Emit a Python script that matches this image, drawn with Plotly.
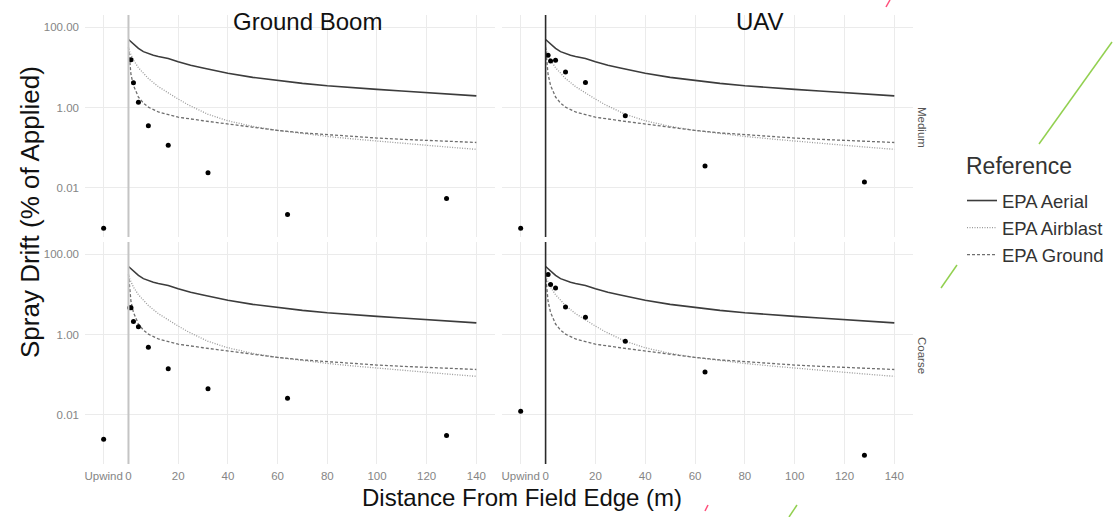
import plotly.graph_objects as go

W, H = 1114, 517

# ---------------- data ----------------
upwind_x = -10
x_tickvals = [-10, 0, 20, 40, 60, 80, 100, 120, 140]
x_ticktext = ["Upwind", "0", "20", "40", "60", "80", "100", "120", "140"]
y_tickvals = [0.01, 1, 100]
y_ticktext = ["0.01", "1.00", "100.00"]

# EPA reference curves (% of applied)
aerial_d = [0, 1, 2, 4, 6, 8, 10, 12, 14, 16, 20, 25, 30, 40, 50, 60, 70, 80, 90, 100, 110, 120, 130, 140]
aerial_v = [49.0, 42.7, 37.2, 29.5, 24.5, 21.9, 20.0, 18.6, 17.6, 16.6, 13.8, 11.2, 9.55, 7.08, 5.62,
            4.68, 3.98, 3.47, 3.09, 2.82, 2.57, 2.34, 2.14, 1.95]
airblast_d = [0, 1, 2, 4, 8, 12, 16, 20, 24, 28, 32, 40, 50, 60, 70, 80, 90, 100, 110, 120, 130, 140]
airblast_v = [28.2, 20.0, 15.1, 9.77, 5.25, 3.31, 2.29, 1.62, 1.17, 0.871, 0.676, 0.468, 0.339, 0.269,
              0.224, 0.191, 0.166, 0.145, 0.129, 0.115, 0.102, 0.0912]
ground_d = [0, 0.5, 1, 2, 3, 4, 6, 8, 12, 16, 20, 30, 40, 50, 60, 70, 80, 90, 100, 110, 120, 130, 140]
ground_v = [31.6, 11.2, 6.61, 3.55, 2.40, 1.82, 1.29, 1.02, 0.776, 0.661, 0.575, 0.468, 0.389, 0.316,
            0.269, 0.234, 0.209, 0.191, 0.174, 0.162, 0.151, 0.141, 0.135]

# Measured spray drift points
gb_medium_d = [upwind_x, 1, 2, 4, 8, 16, 32, 64, 128]
gb_medium_v = [0.001, 15.5, 4.1, 1.35, 0.35, 0.115, 0.024, 0.0022, 0.0055]
gb_coarse_d = [upwind_x, 0.5, 1, 2, 4, 8, 16, 32, 64, 128]
gb_coarse_v = [0.0025, 4.6, 4.6, 2.1, 1.55, 0.48, 0.14, 0.045, 0.026, 0.0031]
uav_medium_d = [upwind_x, 1, 2, 4, 8, 16, 32, 64, 128]
uav_medium_v = [0.001, 20.0, 14.4, 14.9, 7.6, 4.2, 0.62, 0.035, 0.014]
uav_coarse_d = [upwind_x, 1, 2, 4, 8, 16, 32, 64, 128]
uav_coarse_v = [0.0123, 31.0, 17.5, 14.4, 4.8, 2.7, 0.68, 0.117, 0.001]

panels = [
    ("x", "y", gb_medium_d, gb_medium_v),
    ("x2", "y2", uav_medium_d, uav_medium_v),
    ("x3", "y3", gb_coarse_d, gb_coarse_v),
    ("x4", "y4", uav_coarse_d, uav_coarse_v),
]

refs = [
    ("EPA Aerial", aerial_d, aerial_v, dict(color="#3c3c3c", width=1.6, dash="solid")),
    ("EPA Airblast", airblast_d, airblast_v, dict(color="#9a9a9a", width=1.3, dash="1px,1.5px")),
    ("EPA Ground", ground_d, ground_v, dict(color="#6f6f6f", width=1.3, dash="3px,2px")),
]

fig = go.Figure()
for i, (xa, ya, pd_, pv) in enumerate(panels):
    for name, d, v, ln in refs:
        fig.add_trace(go.Scatter(x=d, y=v, mode="lines", name=name, line=ln,
                                 xaxis=xa, yaxis=ya, legendgroup=name,
                                 showlegend=(i == 0)))
    fig.add_trace(go.Scatter(x=pd_, y=pv, mode="markers", showlegend=False,
                             marker=dict(color="black", size=5),
                             xaxis=xa, yaxis=ya))

def px(x):
    return x / W

def py(y):
    return 1 - y / H

grid = "#ebebeb"
tickfont = dict(family="Liberation Sans", size=11.5, color="#858585")
xcommon = dict(range=[-17.5, 147.5], tickvals=x_tickvals, ticktext=x_ticktext,
               showgrid=True, gridcolor=grid, gridwidth=1, zeroline=False,
               showline=False, ticks="", tickfont=tickfont, ticklabelstandoff=3)
ycommon = dict(type="log", range=[-3.22, 2.3], tickvals=y_tickvals, ticktext=y_ticktext,
               showgrid=True, gridcolor=grid, gridwidth=1, zeroline=False,
               showline=False, ticks="", tickfont=tickfont, ticklabelstandoff=5)

left = [px(85), px(495)]
right = [px(502), px(913)]
top = [py(237), py(15)]
bottom = [py(464), py(242)]

fig.update_layout(
    width=W, height=H,
    margin=dict(l=0, r=0, t=0, b=0),
    paper_bgcolor="white", plot_bgcolor="white",
    font=dict(family="Liberation Sans", color="#222"),
    xaxis=dict(domain=left, anchor="y", showticklabels=False, **xcommon),
    xaxis2=dict(domain=right, anchor="y2", showticklabels=False, **xcommon),
    xaxis3=dict(domain=left, anchor="y3", showticklabels=True, **xcommon),
    xaxis4=dict(domain=right, anchor="y4", showticklabels=True, **xcommon),
    yaxis=dict(domain=top, anchor="x", showticklabels=True, **ycommon),
    yaxis2=dict(domain=top, anchor="x2", showticklabels=False, **ycommon),
    yaxis3=dict(domain=bottom, anchor="x3", showticklabels=True, **ycommon),
    yaxis4=dict(domain=bottom, anchor="x4", showticklabels=False, **ycommon),
    legend=dict(
        x=px(962), y=py(182), xanchor="left", yanchor="top",
        font=dict(size=18.5, color="#333"),
        bgcolor="rgba(0,0,0,0)", itemwidth=30, tracegroupgap=0,
    ),
    showlegend=True,
)

# vertical reference line at field edge (x = 0)
for xa, ya, col, wd in [("x", "y", "#c4c4c4", 2), ("x3", "y3", "#c4c4c4", 2),
                        ("x2", "y2", "#2a2a2a", 1.6), ("x4", "y4", "#2a2a2a", 1.6)]:
    fig.add_shape(type="line", xref=xa, yref=ya + " domain", x0=0, x1=0, y0=0, y1=1,
                  line=dict(color=col, width=wd), layer="above")

# slide decorations
for (x0, y0, x1, y1, c) in [(1039, 144, 1112, 42, "#92d050"), (941, 288, 957, 265, "#92d050"),
                            (886, 7, 890, 0, "#ff4f7b"), (705, 511, 708, 505, "#ff4f7b"),
                            (789, 517, 797, 505, "#92d050")]:
    fig.add_shape(type="line", xref="paper", yref="paper", x0=px(x0), y0=py(y0), x1=px(x1), y1=py(y1),
                  line=dict(color=c, width=1.5), layer="above")

ann = [
    dict(text="Ground Boom", x=px(307.5), y=py(22), font=dict(size=24, color="#111")),
    dict(text="UAV", x=px(760), y=py(22), font=dict(size=24, color="#111")),
    dict(text="Medium", x=px(922), y=py(127), textangle=90, font=dict(size=11.5, color="#555")),
    dict(text="Coarse", x=px(922), y=py(355), textangle=90, font=dict(size=11.5, color="#555")),
    dict(text="Spray Drift (% of Applied)", x=px(30), y=py(212), textangle=-90,
         font=dict(size=26, color="#111")),
    dict(text="Distance From Field Edge (m)", x=px(522), y=py(497), font=dict(size=24, color="#111")),
    dict(text="Reference", x=px(1019), y=py(166), font=dict(size=23, color="#333")),
]
for a in ann:
    fig.add_annotation(xref="paper", yref="paper", showarrow=False,
                       xanchor="center", yanchor="middle", **a)

fig.write_html("out.html")
